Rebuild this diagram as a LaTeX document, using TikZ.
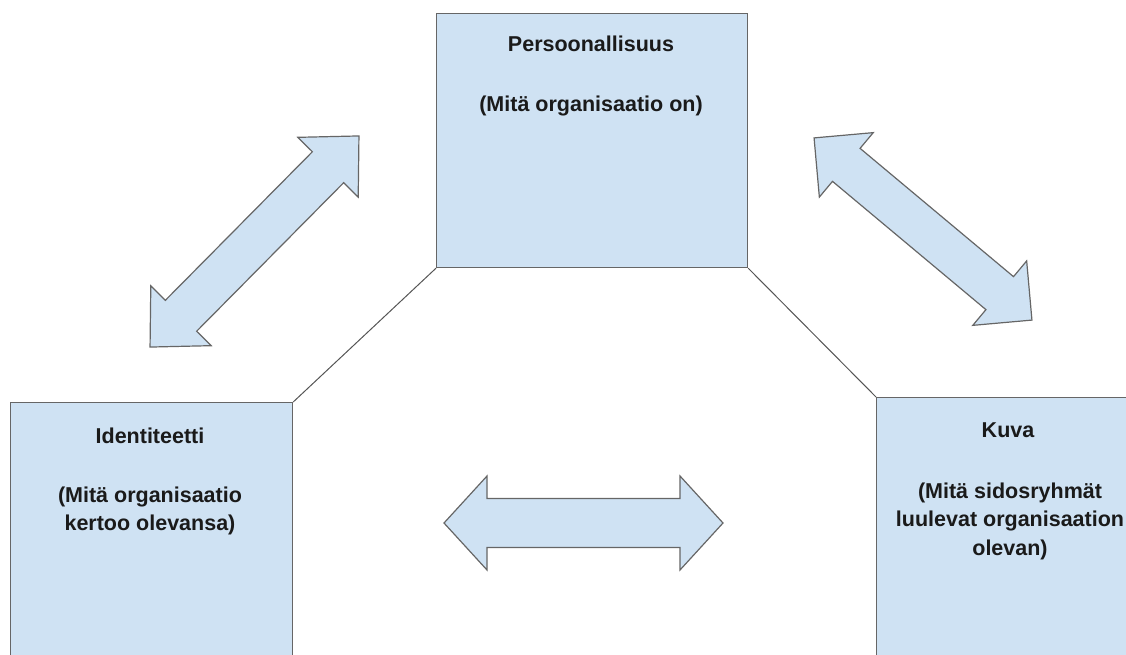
\documentclass[tikz,border=0pt]{standalone}
\usepackage{fontspec}
\setmainfont{Liberation Sans}
\definecolor{boxfill}{HTML}{CFE2F3}
\definecolor{boxline}{HTML}{666666}
\definecolor{conline}{HTML}{555555}
\definecolor{txtcol}{HTML}{1A1A1A}
\tikzset{
  box/.style={draw=boxline, fill=boxfill, line width=1.2pt, inner sep=0pt, anchor=north west},
  lbl/.style={anchor=base, inner sep=0pt, text=txtcol, font=\fontsize{21.5}{26}\selectfont\bfseries},
  conn/.style={draw=conline, line width=1pt},
  blk/.style={draw=boxline, fill=boxfill, line width=1.2pt, line join=miter},
  pics/dblarr/.style n args={4}{code={
    \draw[blk] (-#1/2,0) -- (-#1/2+#4,#2/2) -- (-#1/2+#4,#3/2) -- (#1/2-#4,#3/2)
      -- (#1/2-#4,#2/2) -- (#1/2,0) -- (#1/2-#4,-#2/2) -- (#1/2-#4,-#3/2)
      -- (-#1/2+#4,-#3/2) -- (-#1/2+#4,-#2/2) -- cycle;
  }}
}
\begin{document}
\begin{tikzpicture}[x=1pt,y=-1pt]
\useasboundingbox (0,0) rectangle (1126,655);
\clip (0,0) rectangle (1126,655);
% boxes
\node[box, minimum width=311pt, minimum height=254pt] (top) at (436,13) {};
\node[box, minimum width=282pt, minimum height=300pt] (left) at (10,402) {};
\node[box, minimum width=282pt, minimum height=300pt] (right) at (876,397) {};
% connectors
\draw[conn] (top.south west) -- (left.north east);
\draw[conn] (top.south east) -- (right.north west);
% labels
\node[lbl] (t1) at (591,52) {Persoonallisuus};
\node[lbl] (t2) at (591,112) {(Mitä organisaatio on)};
\node[lbl] (l1) at (150,443) {Identiteetti};
\node[lbl] (l2) at (150,502) {(Mitä organisaatio};
\node[lbl] (l3) at (150,530) {kertoo olevansa)};
\node[lbl] (r1) at (1008,437) {Kuva};
\node[lbl] (r2) at (1010,498) {(Mitä sidosryhmät};
\node[lbl] (r3) at (1010,526) {luulevat organisaation};
\node[lbl] (r4) at (1010,555) {olevan)};
% block arrows
\path (254.5,241.5) pic[rotate=45.3] {dblarr={297}{85}{44}{44}};
\path (923,229) pic[rotate=-39.9] {dblarr={284}{84}{43}{42}};
\path (583.5,523) pic {dblarr={279}{94}{49}{43}};
\end{tikzpicture}
\end{document}
